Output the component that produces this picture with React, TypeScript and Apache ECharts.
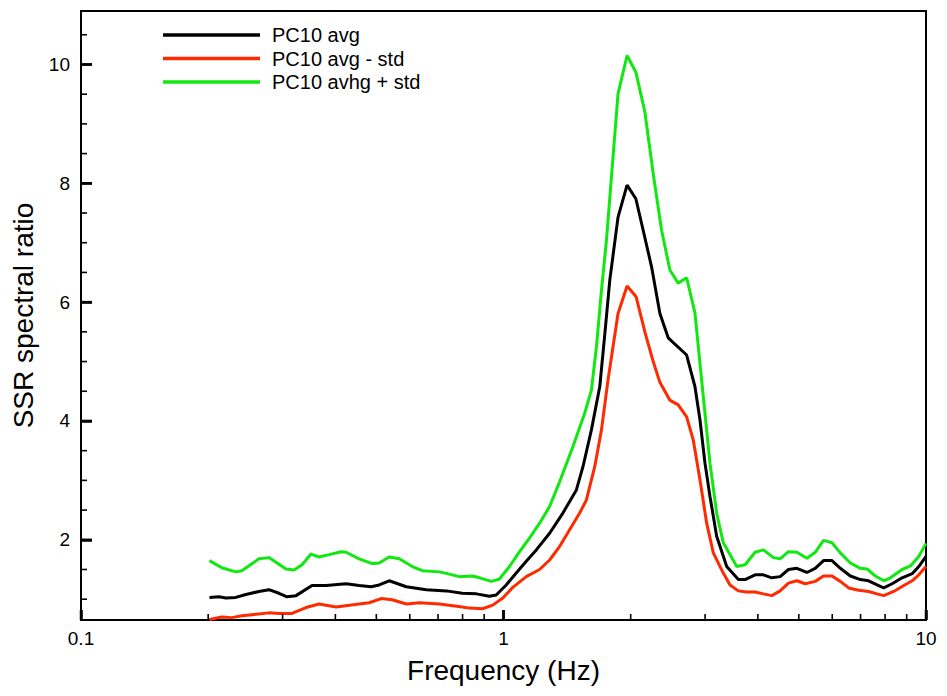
import React, { useEffect, useRef } from "react";
import * as echarts from "echarts";

const seriesNames = ["PC10 avg", "PC10 avg - std", "PC10 avhg + std"];

const avgFreq = [
  0.2014, 0.212, 0.2203, 0.2325, 0.2456, 0.2637, 0.2785, 0.2942, 0.3074, 0.3228,
  0.3522, 0.3803, 0.4241, 0.4554, 0.4863, 0.5078, 0.5364, 0.5887, 0.6567, 0.7325,
  0.799, 0.8627, 0.9264, 0.9609, 1.0148, 1.0718, 1.132, 1.1958, 1.2856, 1.3823,
  1.4876, 1.542, 1.6146, 1.69, 1.7363, 1.7848, 1.8668, 1.961, 2.0572, 2.1408,
  2.2416, 2.3452, 2.4538, 2.7129, 2.8386, 2.9174, 2.9982, 3.0811, 3.1954, 3.3753,
  3.5965, 3.7306, 3.9399, 4.1227, 4.3158, 4.5161, 4.7254, 4.947, 5.2249, 5.4674,
  5.721, 5.9907, 6.269, 6.6215, 6.9918, 7.3162, 7.6593, 7.9414, 8.3136, 8.7803,
  9.2745, 9.6139, 10.0,
];
const avgVals = [
  1.03, 1.04, 1.02, 1.03, 1.08, 1.13, 1.16, 1.1, 1.04, 1.06,
  1.23, 1.23, 1.26, 1.23, 1.21, 1.24, 1.31, 1.21, 1.16, 1.14,
  1.1, 1.09, 1.05, 1.07, 1.24, 1.44, 1.64, 1.83, 2.11, 2.45,
  2.84, 3.23, 3.85, 4.58, 5.45, 6.37, 7.43, 7.97, 7.74, 7.21,
  6.59, 5.81, 5.4, 5.11, 4.58, 4.02, 3.29, 2.73, 2.06, 1.55,
  1.33, 1.33, 1.41, 1.41, 1.36, 1.38, 1.5, 1.52, 1.45, 1.52,
  1.65, 1.65, 1.52, 1.39, 1.33, 1.31, 1.24, 1.19, 1.26, 1.36,
  1.43, 1.55, 1.72,
];

const lowFreq = [
  0.2014, 0.2154, 0.2275, 0.2403, 0.2538, 0.2785, 0.2942, 0.3157, 0.3408, 0.366,
  0.4016, 0.4554, 0.481, 0.5136, 0.5453, 0.5887, 0.6321, 0.7052, 0.799, 0.8305,
  0.8917, 0.9432, 0.9962, 1.0521, 1.132, 1.2173, 1.2856, 1.3584, 1.4339, 1.5145,
  1.5711, 1.644, 1.7056, 1.7676, 1.8163, 1.8668, 1.961, 2.0605, 2.1608, 2.2612,
  2.3452, 2.4765, 2.591, 2.7129, 2.8126, 2.9174, 3.0259, 3.1378, 3.313, 3.4367,
  3.5965, 3.7649, 3.9399, 4.1227, 4.3158, 4.5161, 4.7254, 4.947, 5.1769, 5.4674,
  5.721, 5.9907, 6.269, 6.5609, 6.9278, 7.3162, 7.6593, 7.9414, 8.3866, 8.8574,
  9.2745, 9.6139, 10.0,
];
const lowVals = [
  0.66, 0.7, 0.69, 0.72, 0.74, 0.77, 0.76, 0.76, 0.86, 0.92,
  0.87, 0.92, 0.94, 1.01, 0.99, 0.92, 0.94, 0.92, 0.87, 0.85,
  0.84, 0.9, 1.02, 1.2, 1.38, 1.5, 1.66, 1.89, 2.17, 2.45,
  2.67, 3.23, 3.85, 4.69, 5.25, 5.81, 6.27, 6.09, 5.5, 5.0,
  4.65, 4.35, 4.27, 4.07, 3.68, 3.01, 2.28, 1.78, 1.44, 1.24,
  1.14, 1.12, 1.12, 1.09, 1.06, 1.14, 1.27, 1.31, 1.26, 1.3,
  1.39, 1.39, 1.3, 1.19, 1.15, 1.13, 1.09, 1.06, 1.13, 1.23,
  1.31, 1.41, 1.55,
];

const highFreq = [
  0.2014, 0.2154, 0.2325, 0.2403, 0.2637, 0.2785, 0.3056, 0.3192, 0.3336, 0.3503,
  0.366, 0.3866, 0.4127, 0.4241, 0.4554, 0.489, 0.5078, 0.5364, 0.5666, 0.6083,
  0.6425, 0.7052, 0.7364, 0.7862, 0.8443, 0.8772, 0.9365, 0.9784, 1.0333, 1.0914,
  1.1527, 1.2173, 1.2856, 1.3584, 1.4603, 1.5565, 1.6146, 1.6596, 1.7056, 1.7526,
  1.8163, 1.8668, 1.961, 2.0572, 2.1608, 2.2612, 2.3669, 2.4765, 2.591, 2.7129,
  2.8386, 2.9174, 2.9982, 3.0811, 3.1954, 3.313, 3.5653, 3.7306, 3.9399, 4.1227,
  4.3538, 4.5161, 4.7254, 4.947, 5.2249, 5.4674, 5.721, 5.9907, 6.269, 6.6215,
  6.9918, 7.2524, 7.5889, 7.9414, 8.2375, 8.7803, 9.1874, 9.6139, 10.0,
];
const highVals = [
  1.65, 1.53, 1.46, 1.48, 1.68, 1.7, 1.51, 1.49, 1.58, 1.76,
  1.71, 1.75, 1.8, 1.79, 1.68, 1.6, 1.61, 1.71, 1.68, 1.55,
  1.48, 1.46, 1.43, 1.38, 1.39, 1.36, 1.3, 1.34, 1.55, 1.8,
  2.03, 2.28, 2.56, 2.98, 3.57, 4.13, 4.52, 5.25, 6.2, 7.04,
  8.44, 9.51, 10.15, 9.87, 9.2, 8.16, 7.21, 6.54, 6.32, 6.41,
  5.82, 4.97, 4.13, 3.29, 2.45, 1.95, 1.55, 1.58, 1.79, 1.83,
  1.7, 1.68, 1.8, 1.79, 1.69, 1.79, 1.99, 1.95, 1.78, 1.61,
  1.52, 1.51, 1.39, 1.31, 1.36, 1.5, 1.56, 1.72, 1.94,
];

const xMajorTicks = [0.1, 1, 10];
const xMinorTicks = [0.2, 0.3, 0.4, 0.5, 0.6, 0.7, 0.8, 0.9, 2, 3, 4, 5, 6, 7, 8, 9];
const yMajorTicks = [2, 4, 6, 8, 10];
const yMinorTicks = [1, 1.5, 2.5, 3, 3.5, 4.5, 5, 5.5, 6.5, 7, 7.5, 8.5, 9, 9.5, 10.5];

const colors = ["#000000", "#ff2a00", "#11e811"];
const FONT = "'Liberation Sans', Arial, Helvetica, sans-serif";

const X_MIN = 0.1;
const X_MAX = 10;
const Y_MIN = 0.65;
const Y_MAX = 10.9;

const zip = (xs: number[], ys: number[]) => xs.map((x, i) => [x, ys[i]]);

export default function App() {
  const ref = useRef<HTMLDivElement>(null);
  useEffect(() => {
    if (!ref.current) return;
    const chart = echarts.init(ref.current, undefined, { renderer: "svg" });
    const option: any = {
      animation: false,
      backgroundColor: "#ffffff",
      textStyle: { fontFamily: FONT },
      grid: {
        left: 81,
        right: 21,
        top: 11,
        bottom: 76,
        show: true,
        borderColor: "#000",
        borderWidth: 2,
        backgroundColor: "transparent",
      },
      legend: {
        orient: "vertical",
        left: 163,
        top: 25,
        padding: 0,
        icon: "rect",
        itemWidth: 97,
        itemHeight: 3.5,
        itemGap: 3.5,
        data: seriesNames,
        textStyle: {
          fontSize: 20,
          fontFamily: FONT,
          color: "#000",
          lineHeight: 20,
          padding: [0, 0, 0, 7],
        },
      },
      xAxis: {
        type: "log",
        logBase: 10,
        min: X_MIN,
        max: X_MAX,
        axisLine: { show: true, onZero: false, lineStyle: { color: "#000", width: 2 } },
        axisTick: { show: true, inside: true, length: 10, lineStyle: { color: "#000", width: 2.5 } },
        axisLabel: {
          show: true,
          margin: 9,
          fontSize: 19,
          color: "#000",
          fontFamily: FONT,
          showMinLabel: true,
          showMaxLabel: true,
        },
        splitLine: { show: false },
        minorTick: { show: false },
        name: "Frequency (Hz)",
        nameLocation: "middle",
        nameGap: 36,
        nameTextStyle: { fontSize: 28, color: "#000", fontFamily: FONT },
      },
      yAxis: {
        type: "value",
        min: Y_MIN,
        max: Y_MAX,
        axisLine: { show: true, onZero: false, lineStyle: { color: "#000", width: 2 } },
        axisTick: {
          show: true,
          inside: true,
          length: 11,
          customValues: yMajorTicks,
          lineStyle: { color: "#000", width: 2.5 },
        },
        axisLabel: {
          show: true,
          customValues: yMajorTicks,
          margin: 11,
          fontSize: 19,
          color: "#000",
          fontFamily: FONT,
        },
        splitLine: { show: false },
        name: "SSR spectral ratio",
        nameLocation: "middle",
        nameGap: 39,
        nameTextStyle: { fontSize: 28, color: "#000", fontFamily: FONT },
      },
      series: [
        {
          name: seriesNames[0],
          type: "line",
          data: zip(avgFreq, avgVals),
          symbol: "none",
          color: colors[0],
          lineStyle: { color: colors[0], width: 3 },
          z: 4,
        },
        {
          name: seriesNames[1],
          type: "line",
          data: zip(lowFreq, lowVals),
          symbol: "none",
          color: colors[1],
          lineStyle: { color: colors[1], width: 3 },
          z: 3,
        },
        {
          name: seriesNames[2],
          type: "line",
          data: zip(highFreq, highVals),
          symbol: "none",
          color: colors[2],
          lineStyle: { color: colors[2], width: 3 },
          z: 3,
        },
      ],
    };
    chart.setOption(option);

    // Tick marks placed through the chart's own scales (convertToPixel).
    const finder = { xAxisIndex: 0, yAxisIndex: 0 };
    const ticks: any[] = [];
    const addTick = (x: number, y: number, dx: number, dy: number, w: number) => {
      const p = chart.convertToPixel(finder, [x, y]) as number[];
      if (!p || !isFinite(p[0]) || !isFinite(p[1])) return;
      ticks.push({
        type: "polyline",
        z: 100,
        silent: true,
        shape: {
          points: [
            [p[0], p[1]],
            [p[0] + dx, p[1] + dy],
          ],
        },
        style: { stroke: "#000", lineWidth: w, fill: null },
      });
    };
    xMajorTicks.forEach((f) => addTick(f, Y_MIN, 0, -10, 2.5));
    xMinorTicks.forEach((f) => addTick(f, Y_MIN, 0, -6, 1.6));
    yMajorTicks.forEach((v) => addTick(X_MIN, v, 11, 0, 2.5));
    yMinorTicks.forEach((v) => addTick(X_MIN, v, 6, 0, 1.6));
    chart.setOption({ graphic: ticks });

    return () => chart.dispose();
  }, []);
  return (
    <div
      ref={ref}
      style={{ position: "fixed", left: 0, top: 0, width: 947, height: 696, background: "#fff" }}
    />
  );
}
